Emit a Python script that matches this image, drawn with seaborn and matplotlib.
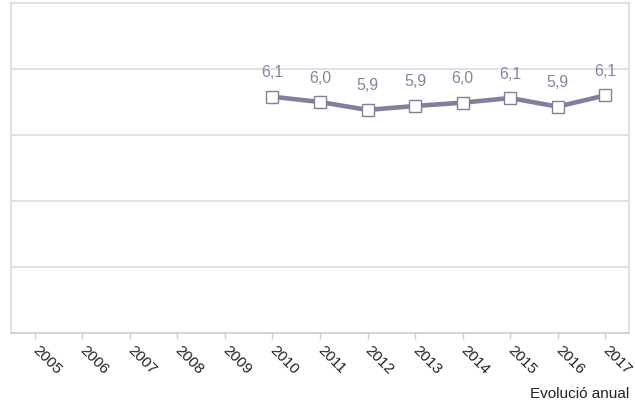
import numpy as np
import pandas as pd
import matplotlib
matplotlib.use("Agg")
import matplotlib.pyplot as plt
import seaborn as sns

years = list(range(2005, 2018))
values = [np.nan, np.nan, np.nan, np.nan, np.nan, 6.08, 6.00, 5.88, 5.94, 5.99, 6.06, 5.93, 6.10]
labels = ["", "", "", "", "", "6,1", "6,0", "5,9", "5,9", "6,0", "6,1", "5,9", "6,1"]

sns.set_theme(style="white")
plt.rcParams['font.family'] = ['Liberation Sans', 'DejaVu Sans']

df = pd.DataFrame({"year": years, "value": values})

fig = plt.figure(figsize=(6.35, 4.06), dpi=100)
ax = fig.add_axes([11/635, (406-334)/406, 618/635, 330/406])

line_color = "#877c9e"
sns.lineplot(data=df, x="year", y="value", ax=ax, color=line_color, linewidth=3.3,
             marker="s", markersize=8, markerfacecolor="white", markeredgecolor=line_color,
             markeredgewidth=1.0, zorder=3)

ax.set_xlim(2004.5, 2017.5)
ax.set_ylim(2.5, 7.5)
ax.set_yticks([3.5, 4.5, 5.5, 6.5])
ax.set_yticklabels([])
ax.tick_params(axis='y', length=0)
ax.grid(axis='y', color="#dcdcdc", linewidth=1.2)
ax.set_axisbelow(True)

ax.set_xticks(years)
ax.set_xticklabels([str(y) for y in years], rotation=-45, ha='left', va='center',
                   rotation_mode='anchor', fontsize=11, color="#222222")
ax.tick_params(axis='x', length=4, width=1, color="#cccccc", pad=6, bottom=True)
ax.set_xlabel("")
ax.set_ylabel("")

for s in ["top", "left", "right"]:
    ax.spines[s].set_color("#dcdcdc")
    ax.spines[s].set_linewidth(1.2)
ax.spines["bottom"].set_color("#cccccc")
ax.spines["bottom"].set_linewidth(1.2)

for y, v, lab in zip(years, values, labels):
    if lab:
        ax.annotate(lab, (y, v), xytext=(0, 18), textcoords="offset points",
                    ha='center', va='center', fontsize=11.5, color="#8a82a3")

fig.text(629/635, 1 - 394/406, "Evolució anual", ha='right', va='center',
         fontsize=11, color="#222222")

fig.savefig("out.png", dpi=100)
